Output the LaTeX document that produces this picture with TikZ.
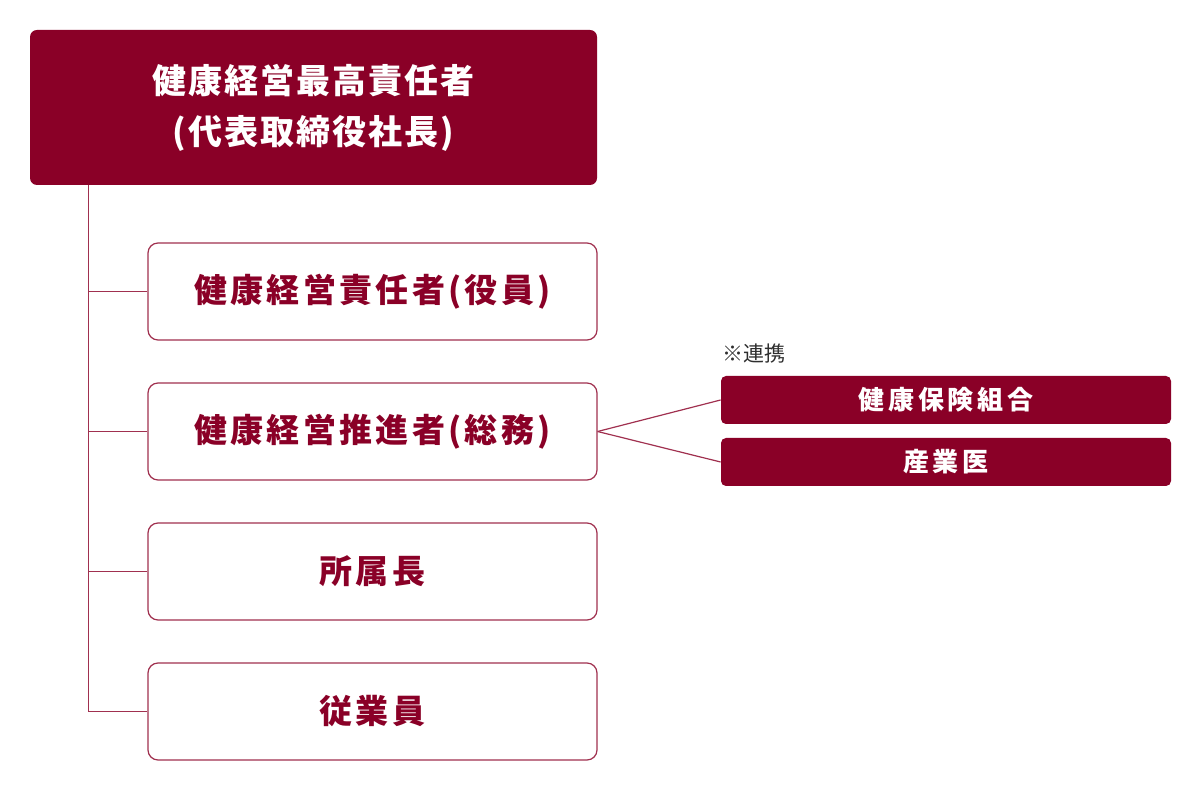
\documentclass[tikz,border=0pt]{standalone}
\usepackage{fontspec}
\usepackage{xcolor}
\usepackage{tikz}
\usetikzlibrary{positioning,calc}
\newfontfamily\jpfont{Noto Sans CJK JP}
\newfontfamily\jptop{Noto Sans CJK JP}[LetterSpace=6]
\newfontfamily\jpwide{Noto Sans CJK JP}[LetterSpace=10]
\newfontfamily\jpside{Noto Sans CJK JP}[LetterSpace=14]
\definecolor{BrandRed}{HTML}{8A0027}
\definecolor{LineRed}{HTML}{A0304F}
\definecolor{NoteGray}{HTML}{2E2E2E}

\begin{document}
\begin{tikzpicture}[x=0.5pt,y=-0.5pt,
    every node/.style={inner sep=0pt},
    headbox/.style={fill=BrandRed, rounded corners=3.5pt, text=white, align=center,
      font=\jptop\bfseries\fontsize{17}{25.5}\selectfont,
      minimum width=283.5pt, minimum height=77.5pt},
    rolebox/.style={draw=LineRed, line width=0.6pt, fill=white, rounded corners=5pt,
      text=BrandRed, font=\jpwide\bfseries\fontsize{16.5}{18}\selectfont,
      minimum width=224.5pt, minimum height=48.5pt},
    partnerbox/.style={fill=BrandRed, rounded corners=2.5pt, text=white,
      font=\jpside\bfseries\fontsize{13}{14}\selectfont,
      minimum width=225pt, minimum height=24pt},
    link/.style={draw=LineRed, line width=0.6pt}]
  \useasboundingbox (0,0) rectangle (1200,790);

  % top of the organisation
  \node[headbox] (head) at (313.5,107.5) {健康経営最高責任者\\(代表取締役社長)};

  % roles below
  \foreach \i/\yy/\txt in {
    1/291.5/{健康経営責任者(役員)},
    2/431.5/{健康経営推進者(総務)},
    3/571.5/{所属長},
    4/711.5/{従業員}%
    }{
    \node[rolebox] (role\i) at (372.5,\yy) {\txt};
  }

  \coordinate (trunk) at ($(head.south west)+(59,0)$);
  \draw[link] (trunk) |- (role4.west);
  \foreach \i in {1,2,3}{
    \draw[link] (role\i.west) -- (role\i.west -| trunk);
  }

  % partners
  \node[partnerbox] (kenpo) at (946,400) {健康保険組合};
  \node[partnerbox] (sangyoi) at (946,462) {産業医};
  \node[anchor=south west, text=NoteGray, font=\jpfont\fontsize{10.5}{12}\selectfont]
    (renkei) at ($(kenpo.north west)+(1,-12)$) {※連携};

  \draw[link] (role2.east) -- (kenpo.west);
  \draw[link] (role2.east) -- (sangyoi.west);
\end{tikzpicture}
\end{document}
